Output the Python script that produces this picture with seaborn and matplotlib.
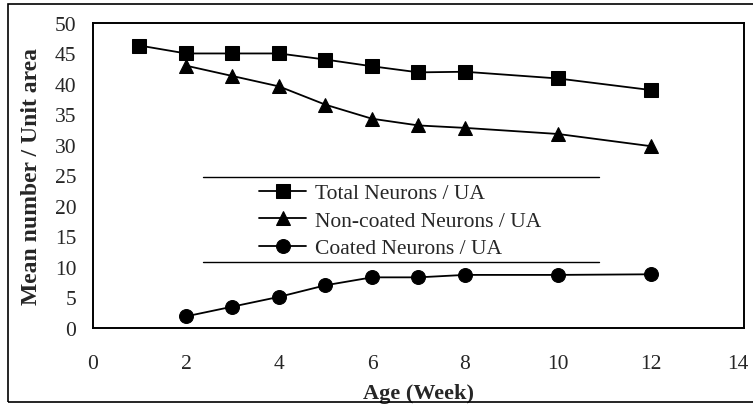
import matplotlib
matplotlib.use("Agg")
import matplotlib.pyplot as plt
from matplotlib.patches import Rectangle
from matplotlib.transforms import ScaledTranslation
import seaborn as sns

# weeks and mean counts per unit area
weeks_total = [1, 2, 3, 4, 5, 6, 7, 8, 10, 12]
total_neurons = [46.3, 45.0, 45.0, 45.0, 44.0, 42.9, 41.9, 42.0, 40.9, 39.0]

weeks_noncoated = [2, 3, 4, 5, 6, 7, 8, 10, 12]
noncoated_neurons = [43.0, 41.3, 39.6, 36.6, 34.3, 33.2, 32.8, 31.8, 29.8]

weeks_coated = [2, 3, 4, 5, 6, 7, 8, 10, 12]
coated_neurons = [1.9, 3.5, 5.1, 7.0, 8.3, 8.3, 8.7, 8.7, 8.8]

labels = ["Total Neurons / UA", "Non-coated Neurons / UA", "Coated Neurons / UA"]

sns.set_style("white")
plt.rcParams["font.family"] = ["Liberation Serif", "DejaVu Serif"]

fig = plt.figure(figsize=(7.53, 4.06), dpi=100)
ax = fig.add_axes([0.1235, 0.1897, 0.8645, 0.7513])

line_kw = dict(color="black", linewidth=1.3, markersize=10, markeredgecolor="black")
sns.lineplot(x=weeks_total, y=total_neurons, marker="s", label=labels[0], ax=ax, **line_kw)
sns.lineplot(x=weeks_noncoated, y=noncoated_neurons, marker="^", label=labels[1], ax=ax, **line_kw)
sns.lineplot(x=weeks_coated, y=coated_neurons, marker="o", label=labels[2], ax=ax, **line_kw)

ax.set_xlim(0, 14)
ax.set_ylim(0, 50)
ax.set_xticks(range(0, 15, 2))
ax.set_yticks(range(0, 51, 5))
ax.tick_params(axis="y", direction="in", length=5, width=1, pad=12, labelsize=15.5)
ax.tick_params(axis="x", direction="in", length=2, width=1, pad=19, labelsize=15.5)
for s in ax.spines.values():
    s.set_color("black")
    s.set_linewidth(1.4)

# the "14" sits right at the page edge; nudge it inward so it stays whole
last = ax.get_xticklabels()[-1]
last.set_transform(last.get_transform() + ScaledTranslation(-6 / 100, 0, fig.dpi_scale_trans))

ax.set_xlabel("Age (Week)", fontsize=16, fontweight="bold", labelpad=7)
ax.set_ylabel("Mean number / Unit area", fontsize=17, fontweight="bold", labelpad=9)

leg = ax.legend(loc="upper left", bbox_to_anchor=(0.255, 0.475), frameon=False,
                fontsize=15.5, borderpad=0, borderaxespad=0, handlelength=2.2,
                handletextpad=0.4, labelspacing=0.35)

# legend box: only top and bottom rules are visible in the scan
for yy in (0.495, 0.216):
    ax.plot([0.169, 0.777], [yy, yy], transform=ax.transAxes, color="black", linewidth=1.0)

# outer frame: left, top and bottom edges inside the image, right edge off the page
fig.patches.append(Rectangle((0.011, 0.008), 1.05, 0.98, transform=fig.transFigure,
                             fill=False, edgecolor="black", linewidth=1.2))

fig.savefig("out.png", dpi=100)
